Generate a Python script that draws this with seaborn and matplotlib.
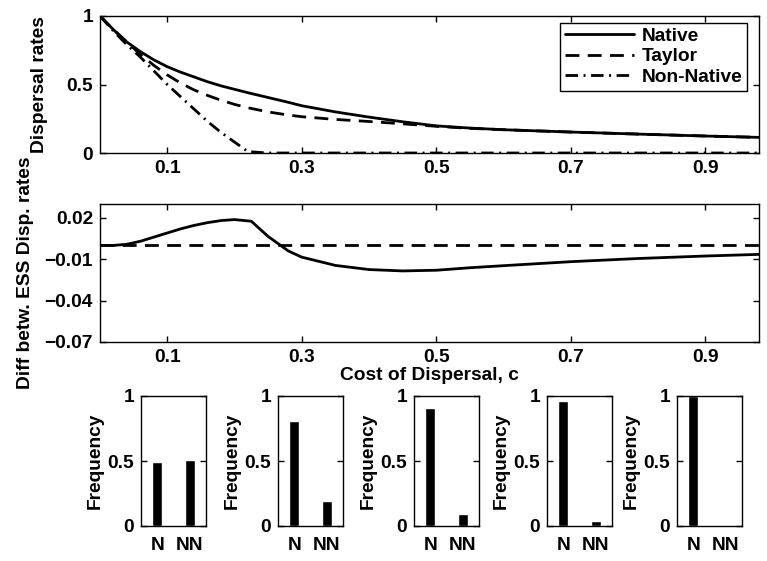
import matplotlib
matplotlib.use("Agg")
import matplotlib.pyplot as plt
import seaborn as sns

# ---- data -------------------------------------------------------------
# cost of dispersal grid for the ESS dispersal rates
cost = [0.00, 0.02, 0.04, 0.06, 0.08, 0.10, 0.12, 0.14, 0.16, 0.18, 0.20,
        0.22, 0.25, 0.28, 0.30, 0.35, 0.40, 0.45, 0.50, 0.55, 0.60, 0.70,
        0.80, 0.90, 0.98]
native = [1.00, 0.90, 0.81, 0.74, 0.68, 0.63, 0.59, 0.555, 0.52, 0.49, 0.465,
          0.44, 0.405, 0.37, 0.345, 0.30, 0.262, 0.228, 0.198, 0.182, 0.17, 0.153,
          0.138, 0.124, 0.114]
taylor = [1.00, 0.90, 0.81, 0.72, 0.64, 0.57, 0.51, 0.46, 0.42, 0.385, 0.355,
          0.33, 0.30, 0.277, 0.265, 0.245, 0.23, 0.213, 0.195, 0.18, 0.17, 0.153,
          0.138, 0.124, 0.114]
non_native = [1.00, 0.89, 0.79, 0.70, 0.60, 0.50, 0.41, 0.32, 0.23, 0.15, 0.08,
              0.01, 0.0, 0.0, 0.0, 0.0, 0.0, 0.0, 0.0, 0.0, 0.0, 0.0,
              0.0, 0.0, 0.0]

# difference between ESS dispersal rates
cost_diff = [0.00, 0.02, 0.04, 0.06, 0.08, 0.10, 0.12, 0.14, 0.16, 0.18, 0.20,
             0.225, 0.25, 0.28, 0.30, 0.35, 0.40, 0.45, 0.50, 0.55, 0.60, 0.70,
             0.80, 0.90, 0.98]
diff = [0.0, 0.0, 0.0008, 0.003, 0.006, 0.009, 0.012, 0.0145, 0.0165, 0.018,
        0.0187, 0.0175, 0.0065, -0.004, -0.0085, -0.0145, -0.0175, -0.0185,
        -0.018, -0.0162, -0.0147, -0.0118, -0.0095, -0.0077, -0.0065]
zero_ref = [0.0] * len(cost_diff)

# frequency of native / non-native outcomes
freq_labels = ["N", "NN"]
freq_native = [0.49, 0.81, 0.91, 0.965, 0.997]
freq_non_native = [0.51, 0.19, 0.09, 0.035, 0.003]

x_ticks = [0.1, 0.3, 0.5, 0.7, 0.9]
x_tick_labels = ["0.1", "0.3", "0.5", "0.7", "0.9"]

# ---- style ------------------------------------------------------------
FS = 13.8
sns.set_style("ticks")
plt.rcParams["font.family"] = ["Liberation Sans", "DejaVu Sans"]
plt.rcParams["font.weight"] = "bold"
plt.rcParams["font.size"] = FS
plt.rcParams["axes.linewidth"] = 1.0
plt.rcParams["axes.edgecolor"] = "black"
plt.rcParams["xtick.color"] = "black"
plt.rcParams["ytick.color"] = "black"
plt.rcParams["text.color"] = "black"
plt.rcParams["axes.labelcolor"] = "black"
plt.rcParams["axes.labelweight"] = "bold"

W, H = 767, 561
fig = plt.figure(figsize=(W / 100, H / 100), dpi=100)


def px_axes(left, top, right, bottom):
    return fig.add_axes([left / W, 1 - bottom / H, (right - left) / W, (bottom - top) / H])


def matlab_box(ax):
    for s in ax.spines.values():
        s.set_visible(True)
        s.set_color("black")
    ax.tick_params(direction="in", top=True, right=True, length=4.5, width=1,
                   labelsize=FS, pad=5)


dash = (0, (5, 3))
dashdot = (0, (4.5, 2, 0.7, 2))

# ---- top panel: dispersal rates --------------------------------------
ax1 = px_axes(100, 16, 759, 153)
sns.lineplot(x=cost, y=native, ax=ax1, color="black", lw=2, label="Native")
sns.lineplot(x=cost, y=taylor, ax=ax1, color="black", lw=2, linestyle=dash, label="Taylor")
sns.lineplot(x=cost, y=non_native, ax=ax1, color="black", lw=2, linestyle=dashdot,
             label="Non-Native")
ax1.set_xlim(0, 0.98)
ax1.set_ylim(0, 1)
ax1.set_xticks(x_ticks, x_tick_labels)
ax1.set_yticks([0, 0.5, 1], ["0", "0.5", "1"])
ax1.set_ylabel("Dispersal rates")
ax1.yaxis.set_label_coords(-0.079, 0.5)
ax1.set_xlabel("")
matlab_box(ax1)
leg = ax1.legend(loc="upper right", bbox_to_anchor=(0.982, 0.949), frameon=True,
                 fancybox=False, shadow=False, edgecolor="black", framealpha=1,
                 handlelength=3.6, handletextpad=0.4, labelspacing=0.15,
                 borderpad=0.25, borderaxespad=0, prop={"weight": "bold", "size": FS})
leg.get_frame().set_linewidth(1.0)

# ---- middle panel: difference between ESS dispersal rates ------------
ax2 = px_axes(100, 204, 759, 342)
sns.lineplot(x=cost_diff, y=diff, ax=ax2, color="black", lw=2)
sns.lineplot(x=cost_diff, y=zero_ref, ax=ax2, color="black", lw=2, linestyle=dash)
ax2.set_xlim(0, 0.98)
ax2.set_ylim(-0.07, 0.03)
ax2.set_xticks(x_ticks, x_tick_labels)
ax2.set_yticks([-0.07, -0.04, -0.01, 0.02], ["\u22120.07", "\u22120.04", "\u22120.01", "0.02"])
ax2.set_ylabel("Diff betw. ESS Disp. rates")
ax2.yaxis.set_label_coords(-0.100, 0.5)
ax2.set_xlabel("Cost of Dispersal, c", labelpad=1)
matlab_box(ax2)

# ---- bottom row: outcome frequencies ---------------------------------
lefts = [141, 278, 414, 547, 677]
for left, fn, fnn in zip(lefts, freq_native, freq_non_native):
    ax = px_axes(left, 396, left + 65, 526)
    sns.barplot(x=freq_labels, y=[fn, fnn], ax=ax, color="black", width=0.32,
                saturation=1, errorbar=None)
    ax.set_xlim(-0.5, 1.5)
    ax.set_ylim(0, 1)
    ax.set_yticks([0, 0.5, 1], ["0", "0.5", "1"])
    ax.set_ylabel("Frequency", labelpad=3)
    ax.set_xlabel("")
    matlab_box(ax)
    ax.tick_params(axis="x", length=0, pad=8)

fig.savefig("out.png", dpi=100)
